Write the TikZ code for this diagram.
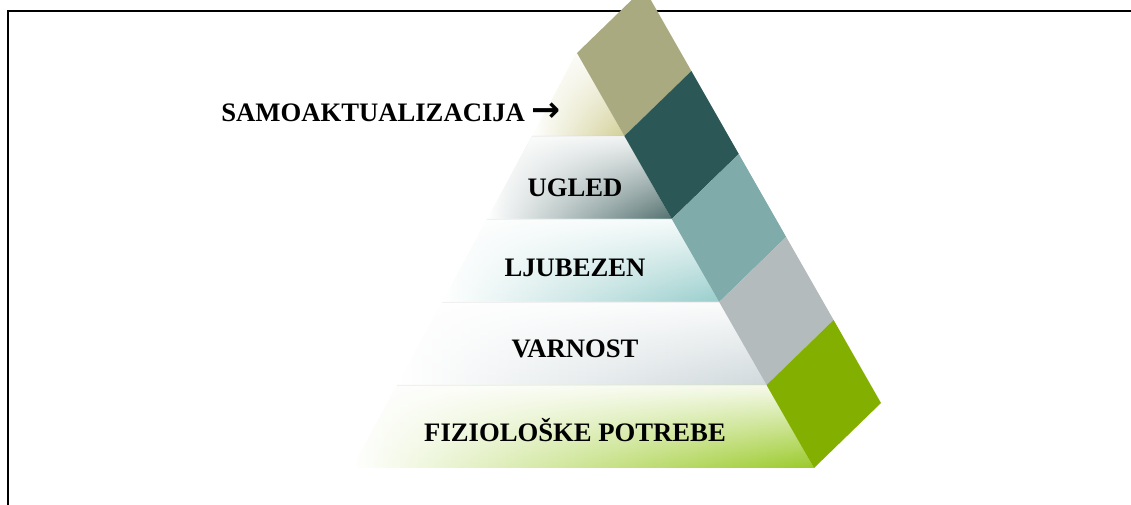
\documentclass[tikz,border=0pt]{standalone}
\usepackage{fontspec}
\setmainfont{Liberation Serif}
\newfontfamily\arrowfont{DejaVu Sans Bold}
\usetikzlibrary{calc,fadings}
\definecolor{khakiF}{HTML}{D2D096}
\definecolor{khakiS}{HTML}{A9AA80}
\definecolor{tealdF}{HTML}{52706F}
\definecolor{tealdS}{HTML}{2B5856}
\definecolor{teallF}{HTML}{98CECC}
\definecolor{teallS}{HTML}{7FACAA}
\definecolor{greyF}{HTML}{D0D9DC}
\definecolor{greyS}{HTML}{B3BBBD}
\definecolor{greenF}{HTML}{9ACA28}
\definecolor{greenS}{HTML}{83AF00}

\begin{document}
\begin{tikzpicture}[x=0.75pt, y=-0.75pt,
  lvltext/.style={font=\bfseries\fontsize{20}{24}\selectfont, anchor=base, inner sep=0pt}]
\useasboundingbox (0,0) rectangle (1131,505);
\clip (0,0) rectangle (1131,505);
\draw[line width=1.5pt] (7.5,505) -- (7.5,11.5) -- (1131,11.5);
\coordinate (apex) at (577,53);
\coordinate (bl) at (352,468);
\coordinate (br) at (814,468);
\foreach \k/\cf/\cs in {0/khakiF/khakiS, 1/tealdF/tealdS, 2/teallF/teallS, 3/greyF/greyS, 4/greenF/greenS}{
  \coordinate (lt) at ($(apex)!{\k/5}!(bl)$);
  \coordinate (rt) at ($(apex)!{\k/5}!(br)$);
  \coordinate (lb) at ($(apex)!{(\k+1)/5}!(bl)$);
  \coordinate (rb) at ($(apex)!{(\k+1)/5}!(br)$);
  \shade[left color=white, right color=\cf] (lt) -- (rt) -- (rb) -- (lb) -- cycle;
  \fill[white, path fading=south, fill opacity=0.9] (lt) -- (rt) -- (rb) -- (lb) -- cycle;
  \draw[black!6] (lt) -- (rt);
  \fill[\cs] (rt) -- (rb) -- ($(rb)+(67,-65)$) -- ($(rt)+(67,-65)$) -- cycle;
}
\node[lvltext] (samo) at (391,122) {SAMOAKTUALIZACIJA {\arrowfont\fontsize{26}{28}\selectfont →}};
\node[lvltext] (ugled) at (575,197) {UGLED};
\node[lvltext] (ljub) at (575,277) {LJUBEZEN};
\node[lvltext] (varn) at (575,358) {VARNOST};
\node[lvltext] (fizio) at (575,441) {FIZIOLOŠKE POTREBE};
\end{tikzpicture}
\end{document}
